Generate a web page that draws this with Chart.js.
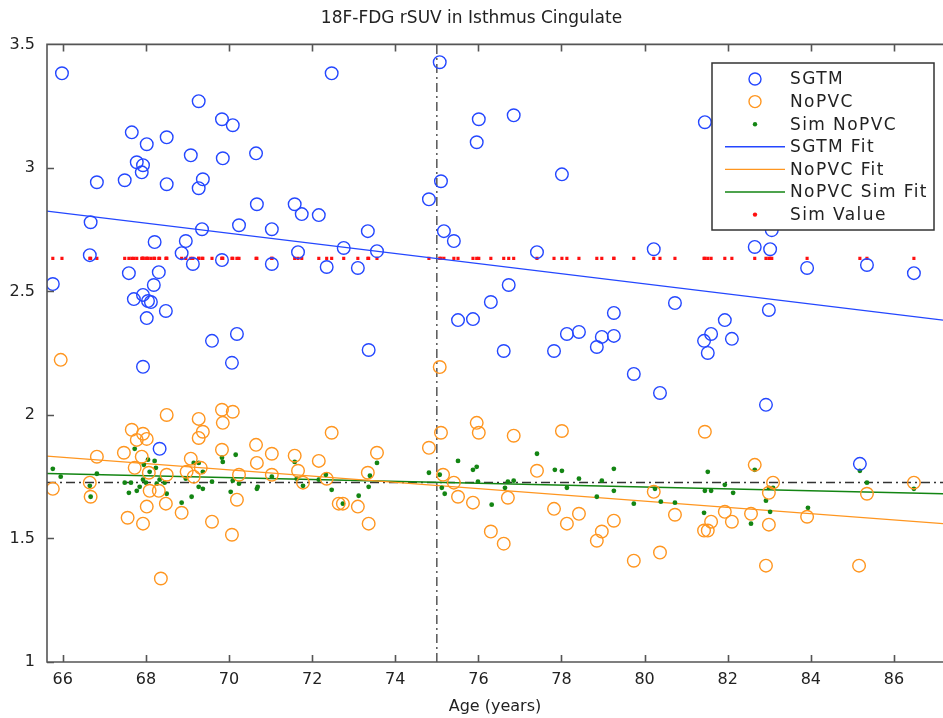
<!DOCTYPE html>
<html>
<head>
<meta charset="utf-8">
<script src="https://cdn.jsdelivr.net/npm/chart.js@4"></script>
<style>
  body { margin: 0; background: #fff; }
  canvas { display: block; }
</style>
</head>
<body>
<canvas id="chart" width="943" height="718"></canvas>
<script>
// SGTM (blue circles)
const sgtmAge = [65.76,65.98,66.67,66.65,66.82,67.49,67.59,67.66,67.71,67.78,67.93,67.90,67.93,67.93,68.02,68.05,68.02,68.12,68.21,68.19,68.31,68.33,68.48,68.50,68.50,68.96,68.86,69.08,69.13,69.27,69.27,69.37,69.35,69.59,69.83,69.83,69.85,70.07,70.09,70.19,70.24,70.65,70.67,71.03,71.03,71.58,71.66,71.75,72.16,72.35,72.47,72.76,73.10,73.34,73.36,73.56,74.81,75.07,75.10,75.17,75.41,75.51,75.87,75.96,76.01,76.30,76.73,76.61,76.85,77.41,77.82,78.01,78.13,78.42,78.85,78.97,79.26,79.26,79.74,80.22,80.37,80.73,81.45,81.43,81.52,81.60,81.93,82.10,82.65,82.92,82.99,83.02,83.06,83.91,85.18,85.35,86.48];
const sgtmVal = [2.530,3.383,2.780,2.647,2.942,2.950,2.574,3.144,2.469,3.023,3.011,2.982,2.486,2.195,3.096,2.461,2.392,2.457,2.700,2.526,2.578,1.863,2.421,3.124,2.934,2.704,2.655,3.051,2.611,3.270,2.918,2.954,2.752,2.300,2.627,3.197,3.039,2.211,3.173,2.328,2.768,3.059,2.853,2.611,2.752,2.853,2.659,2.813,2.809,2.599,3.383,2.676,2.595,2.744,2.263,2.663,2.873,3.428,2.946,2.744,2.704,2.384,2.388,3.104,3.197,2.457,2.526,2.259,3.213,2.659,2.259,2.974,2.328,2.336,2.275,2.316,2.413,2.320,2.166,2.671,2.089,2.453,3.185,2.300,2.251,2.328,2.384,2.308,2.680,2.041,2.425,2.671,2.748,2.595,1.802,2.607,2.574];

// NoPVC (orange circles)
const nopvcAge = [65.76,65.95,66.65,66.67,66.82,67.47,67.56,67.66,67.73,67.78,67.93,67.90,67.93,68.02,68.02,68.07,68.09,68.31,68.36,68.48,68.50,68.50,68.86,68.98,69.08,69.15,69.27,69.27,69.32,69.37,69.59,69.83,69.83,69.85,70.07,70.09,70.19,70.24,70.65,70.67,71.03,71.03,71.58,71.66,71.78,72.16,72.35,72.47,72.64,72.74,73.10,73.34,73.36,73.56,74.81,75.07,75.10,75.15,75.41,75.51,75.87,75.96,76.01,76.30,76.61,76.71,76.85,77.41,77.82,78.01,78.13,78.42,78.85,78.97,79.26,79.74,80.22,80.37,80.73,81.45,81.43,81.52,81.60,81.93,82.10,82.56,82.65,82.92,82.99,82.99,83.09,83.91,85.16,85.35,86.48];
const nopvcVal = [1.701,2.223,1.726,1.669,1.831,1.847,1.584,1.940,1.786,1.899,1.924,1.831,1.560,1.903,1.629,1.766,1.693,1.693,1.338,1.641,2.000,1.758,1.604,1.770,1.823,1.750,1.984,1.907,1.786,1.932,1.568,2.021,1.859,1.968,1.515,2.013,1.657,1.758,1.879,1.806,1.843,1.758,1.835,1.774,1.726,1.814,1.742,1.928,1.641,1.641,1.629,1.766,1.560,1.847,1.867,2.194,1.928,1.758,1.726,1.669,1.645,1.968,1.928,1.528,1.479,1.665,1.916,1.774,1.620,1.935,1.560,1.600,1.491,1.528,1.572,1.410,1.689,1.443,1.596,1.932,1.532,1.532,1.568,1.608,1.568,1.600,1.798,1.390,1.556,1.685,1.726,1.588,1.390,1.681,1.726];

// Sim NoPVC (green dots)
const simAge = [65.76,65.95,66.65,66.67,66.82,67.49,67.59,67.64,67.73,67.78,67.85,67.93,67.95,68.00,68.05,68.09,68.21,68.24,68.26,68.33,68.45,68.50,68.86,68.96,69.10,69.15,69.27,69.27,69.37,69.37,69.59,69.83,69.85,70.04,70.09,70.16,70.24,70.67,70.69,71.03,71.58,71.63,71.78,72.16,72.33,72.47,72.74,73.12,73.36,73.39,73.56,74.81,75.07,75.12,75.19,75.51,75.87,75.96,75.99,76.32,76.64,76.71,76.85,77.41,77.84,78.01,78.13,78.42,78.85,78.97,79.26,79.26,79.74,80.25,80.39,80.73,81.43,81.45,81.52,81.60,81.93,82.13,82.56,82.65,82.92,82.99,83.09,83.02,83.93,85.18,85.35,86.48];
const simVal = [1.782,1.750,1.713,1.669,1.762,1.726,1.685,1.726,1.863,1.693,1.709,1.738,1.798,1.726,1.819,1.770,1.814,1.786,1.722,1.738,1.726,1.681,1.645,1.742,1.669,1.806,1.806,1.709,1.770,1.701,1.730,1.827,1.810,1.689,1.734,1.839,1.722,1.701,1.709,1.750,1.810,1.742,1.713,1.738,1.758,1.697,1.641,1.673,1.709,1.754,1.806,1.766,1.758,1.705,1.681,1.814,1.778,1.790,1.730,1.637,1.705,1.730,1.734,1.843,1.778,1.774,1.705,1.742,1.669,1.734,1.782,1.693,1.641,1.701,1.649,1.645,1.604,1.693,1.770,1.693,1.717,1.685,1.560,1.778,1.653,1.705,1.705,1.608,1.624,1.774,1.726,1.701];

// simulated true value (red dots), one per subject age
const simTrueValue = 2.634;

// fit lines, end points over the x range (plot runs past the right edge)
const xRange = [65.62, 87.18];
const sgtmFit = [2.825, 2.384];
const nopvcFit = [1.833, 1.560];
const simFit = [1.763, 1.681];

// reference lines
const refAge = 75;
const refValue = 1.727;

const xTicks = [66, 68, 70, 72, 74, 76, 78, 80, 82, 84, 86];

const BLUE = '#2447ff';
const ORANGE = '#ff9620';
const GREEN = '#138513';
const RED = '#ff1010';
const AXIS = '#555555';
const FONT = "'DejaVu Sans', sans-serif";

const pts = (xs, ys) => xs.map((x, i) => ({x: x, y: ys[i]}));

// axis lines with inward ticks, matlab style (right side is cut off in the original)
const framePlugin = {
    id: 'frame',
    afterDatasetsDraw(chart) {
        const {ctx, chartArea: a, scales} = chart;
        ctx.save();
        ctx.strokeStyle = AXIS;
        ctx.lineWidth = 1.6;
        ctx.beginPath();
        ctx.moveTo(a.right + 2, a.top); ctx.lineTo(a.left, a.top);
        ctx.lineTo(a.left, a.bottom); ctx.lineTo(a.right + 2, a.bottom);
        xTicks.forEach(v => {
            const px = Math.round(scales.x.getPixelForValue(v)) + 0.5;
            ctx.moveTo(px, a.bottom); ctx.lineTo(px, a.bottom - 7);
            ctx.moveTo(px, a.top); ctx.lineTo(px, a.top + 7);
        });
        scales.y.ticks.forEach(t => {
            const py = Math.round(scales.y.getPixelForValue(t.value)) + 0.5;
            ctx.moveTo(a.left, py); ctx.lineTo(a.left + 7, py);
        });
        ctx.stroke();
        ctx.restore();
    }
};

// legend box inside the plot (top right)
const legendPlugin = {
    id: 'boxLegend',
    afterDraw(chart) {
        const ctx = chart.ctx;
        const items = [0, 1, 2, 3, 4, 5, 6].map(i => chart.data.datasets[i]);
        const x0 = 712, y0 = 63, w = 222, h = 167;
        ctx.save();
        ctx.fillStyle = '#fff';
        ctx.fillRect(x0, y0, w, h);
        ctx.strokeStyle = '#333';
        ctx.lineWidth = 1.5;
        ctx.strokeRect(x0, y0, w, h);
        ctx.font = '17px ' + FONT;
        ctx.textBaseline = 'middle';
        ctx.textAlign = 'left';
        if ('letterSpacing' in ctx) ctx.letterSpacing = '1.4px';
        items.forEach((ds, i) => {
            const y = y0 + 16 + i * 22.6;
            const cx = 755;
            if (ds.showLine) {
                ctx.strokeStyle = ds.borderColor;
                ctx.lineWidth = 1.4;
                ctx.beginPath();
                ctx.moveTo(725, y); ctx.lineTo(785, y);
                ctx.stroke();
            } else if (ds.pointBackgroundColor === 'transparent') {
                ctx.strokeStyle = ds.pointBorderColor;
                ctx.lineWidth = 1.4;
                ctx.beginPath();
                ctx.arc(cx, y, 6, 0, Math.PI * 2);
                ctx.stroke();
            } else {
                ctx.fillStyle = ds.pointBackgroundColor;
                ctx.beginPath();
                ctx.arc(cx, y, 2.2, 0, Math.PI * 2);
                ctx.fill();
            }
            ctx.fillStyle = '#222';
            ctx.fillText(ds.label, 790, y + 1);
        });
        ctx.restore();
    }
};

const circle = (label, data, color) => ({
    label: label, data: data, showLine: false,
    pointRadius: 6.3, pointHoverRadius: 6.3, pointBorderWidth: 1.4,
    pointBorderColor: color, pointBackgroundColor: 'transparent'
});
const dots = (label, data, color, style, r) => ({
    label: label, data: data, showLine: false, pointStyle: style,
    pointRadius: r, pointHoverRadius: r, pointBorderWidth: 0,
    pointBorderColor: color, pointBackgroundColor: color
});
const fitLine = (label, ys, color) => ({
    label: label, data: pts(xRange, ys), showLine: true,
    borderColor: color, borderWidth: 1.3, pointRadius: 0, pointHoverRadius: 0
});

const ctx = document.getElementById('chart').getContext('2d');
const chart = new Chart(ctx, {
    type: 'scatter',
    data: {
        datasets: [
            circle('SGTM', pts(sgtmAge, sgtmVal), BLUE),
            circle('NoPVC', pts(nopvcAge, nopvcVal), ORANGE),
            dots('Sim NoPVC', pts(simAge, simVal), GREEN, 'circle', 2.4),
            fitLine('SGTM Fit', sgtmFit, BLUE),
            fitLine('NoPVC Fit', nopvcFit, ORANGE),
            fitLine('NoPVC Sim Fit', simFit, GREEN),
            dots('Sim Value', sgtmAge.map(x => ({x: x, y: simTrueValue})), RED, 'rect', 2.2),
            {
                label: 'age ref', data: [{x: refAge, y: 1}, {x: refAge, y: 3.5}],
                showLine: true, borderColor: '#555', borderWidth: 1.5,
                borderDash: [9, 4, 2, 4], pointRadius: 0
            },
            {
                label: 'value ref', data: pts(xRange, [refValue, refValue]),
                showLine: true, borderColor: '#333', borderWidth: 1.5,
                borderDash: [9, 4, 2, 4], pointRadius: 0
            }
        ]
    },
    options: {
        responsive: false,
        animation: false,
        events: [],
        layout: { autoPadding: false, padding: { left: 0, right: 0, top: 0, bottom: 0 } },
        plugins: {
            legend: { display: false },
            tooltip: { enabled: false },
            title: {
                display: true,
                text: '18F-FDG rSUV in Isthmus Cingulate',
                color: '#222',
                font: { family: FONT, size: 17, weight: 'normal' },
                padding: { top: 8, bottom: 16 }
            }
        },
        scales: {
            x: {
                type: 'linear',
                min: xRange[0],
                max: xRange[1],
                afterBuildTicks: s => { s.ticks = xTicks.map(v => ({value: v})); },
                afterFit: s => { s.height = 56; s.paddingLeft = 0; s.paddingRight = 0; },
                grid: { display: false, drawTicks: false },
                border: { display: false },
                ticks: { color: '#222', padding: 8, font: { family: FONT, size: 16 } },
                title: {
                    display: true, text: 'Age (years)', color: '#222',
                    font: { family: FONT, size: 16 }, padding: { top: 0, bottom: 2 }
                }
            },
            y: {
                min: 1,
                max: 3.5,
                ticks: {
                    stepSize: 0.5, color: '#222', padding: 12,
                    font: { family: FONT, size: 16 },
                    callback: v => String(v)
                },
                afterFit: s => { s.width = 47; },
                grid: { display: false, drawTicks: false },
                border: { display: false }
            }
        }
    },
    plugins: [framePlugin, legendPlugin]
});
</script>
</body>
</html>
